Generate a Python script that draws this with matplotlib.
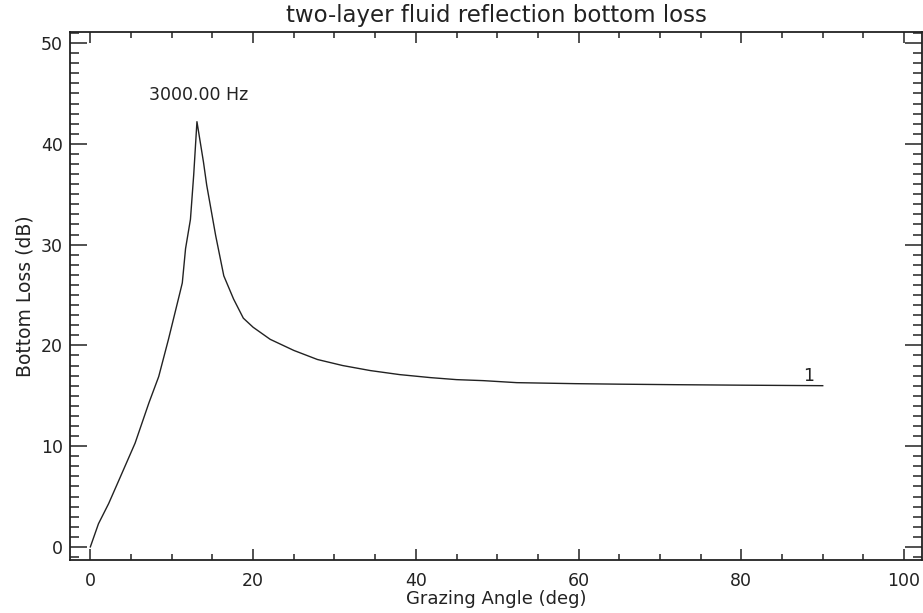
"""Two-layer fluid reflection bottom loss vs grazing angle (IDL-style plot)."""
import matplotlib
matplotlib.use("Agg")
import matplotlib.pyplot as plt
from matplotlib.ticker import MultipleLocator

# ---- data ----
angle_deg = [0, 1.0, 2.25, 3.5, 5.5, 7.2, 8.4, 9.6, 11.0, 11.3, 11.7, 12.3, 12.7,
             13.1, 13.5, 13.9, 14.3, 15.4, 16.4, 17.6, 18.8, 20.0, 22.1, 25.0,
             27.9, 31.0, 34.4, 38.0, 41.8, 45.0, 48.3, 52.4, 56.0, 59.6, 65.0,
             71.7, 80.0, 90.0]
loss_db = [0, 2.3, 4.3, 6.6, 10.3, 14.3, 16.9, 20.6, 25.2, 26.2, 29.6, 32.5, 36.9,
           42.2, 40.2, 38.2, 35.9, 30.9, 26.9, 24.6, 22.7, 21.8, 20.6, 19.5,
           18.6, 18.0, 17.5, 17.1, 16.8, 16.6, 16.5, 16.3, 16.25, 16.2, 16.15,
           16.1, 16.05, 16.0]
freq_label = "3000.00 Hz"
curve_label = "1"

INK = "#222222"
FS = 12.5

fig = plt.figure(figsize=(9.23, 6.13), dpi=100)
ax = fig.add_axes([70 / 923, 1 - 560 / 613, 852 / 923, 528 / 613])

ax.plot(angle_deg, loss_db, color=INK, lw=1.0)
ax.text(13.3, 44.8, freq_label, ha="center", va="center", fontsize=FS, color=INK)
ax.text(88.3, 16.05, curve_label, ha="center", va="bottom", fontsize=FS, color=INK)

ax.set_xlim(-2.5, 102.2)
ax.set_ylim(-1.3, 51.1)
ax.xaxis.set_major_locator(MultipleLocator(20))
ax.xaxis.set_minor_locator(MultipleLocator(5))
ax.yaxis.set_major_locator(MultipleLocator(10))
ax.yaxis.set_minor_locator(MultipleLocator(1))

for s in ax.spines.values():
    s.set_color(INK)
    s.set_linewidth(1.3)

ax.tick_params(axis="both", which="both", direction="in", colors=INK,
               top=True, right=True, labelsize=FS, width=1.1)
ax.tick_params(axis="x", which="major", length=8, pad=9)
ax.tick_params(axis="x", which="minor", length=4)
ax.tick_params(axis="y", which="major", length=12.5, pad=5)
ax.tick_params(axis="y", which="minor", length=6.5)

ax.set_title("two-layer fluid reflection bottom loss", fontsize=16.5, color=INK, pad=7)
ax.set_xlabel("Grazing Angle (deg)", fontsize=13, color=INK, labelpad=0)
ax.set_ylabel("Bottom Loss (dB)", fontsize=13.5, color=INK, labelpad=5)

fig.savefig("out.png", dpi=100)
